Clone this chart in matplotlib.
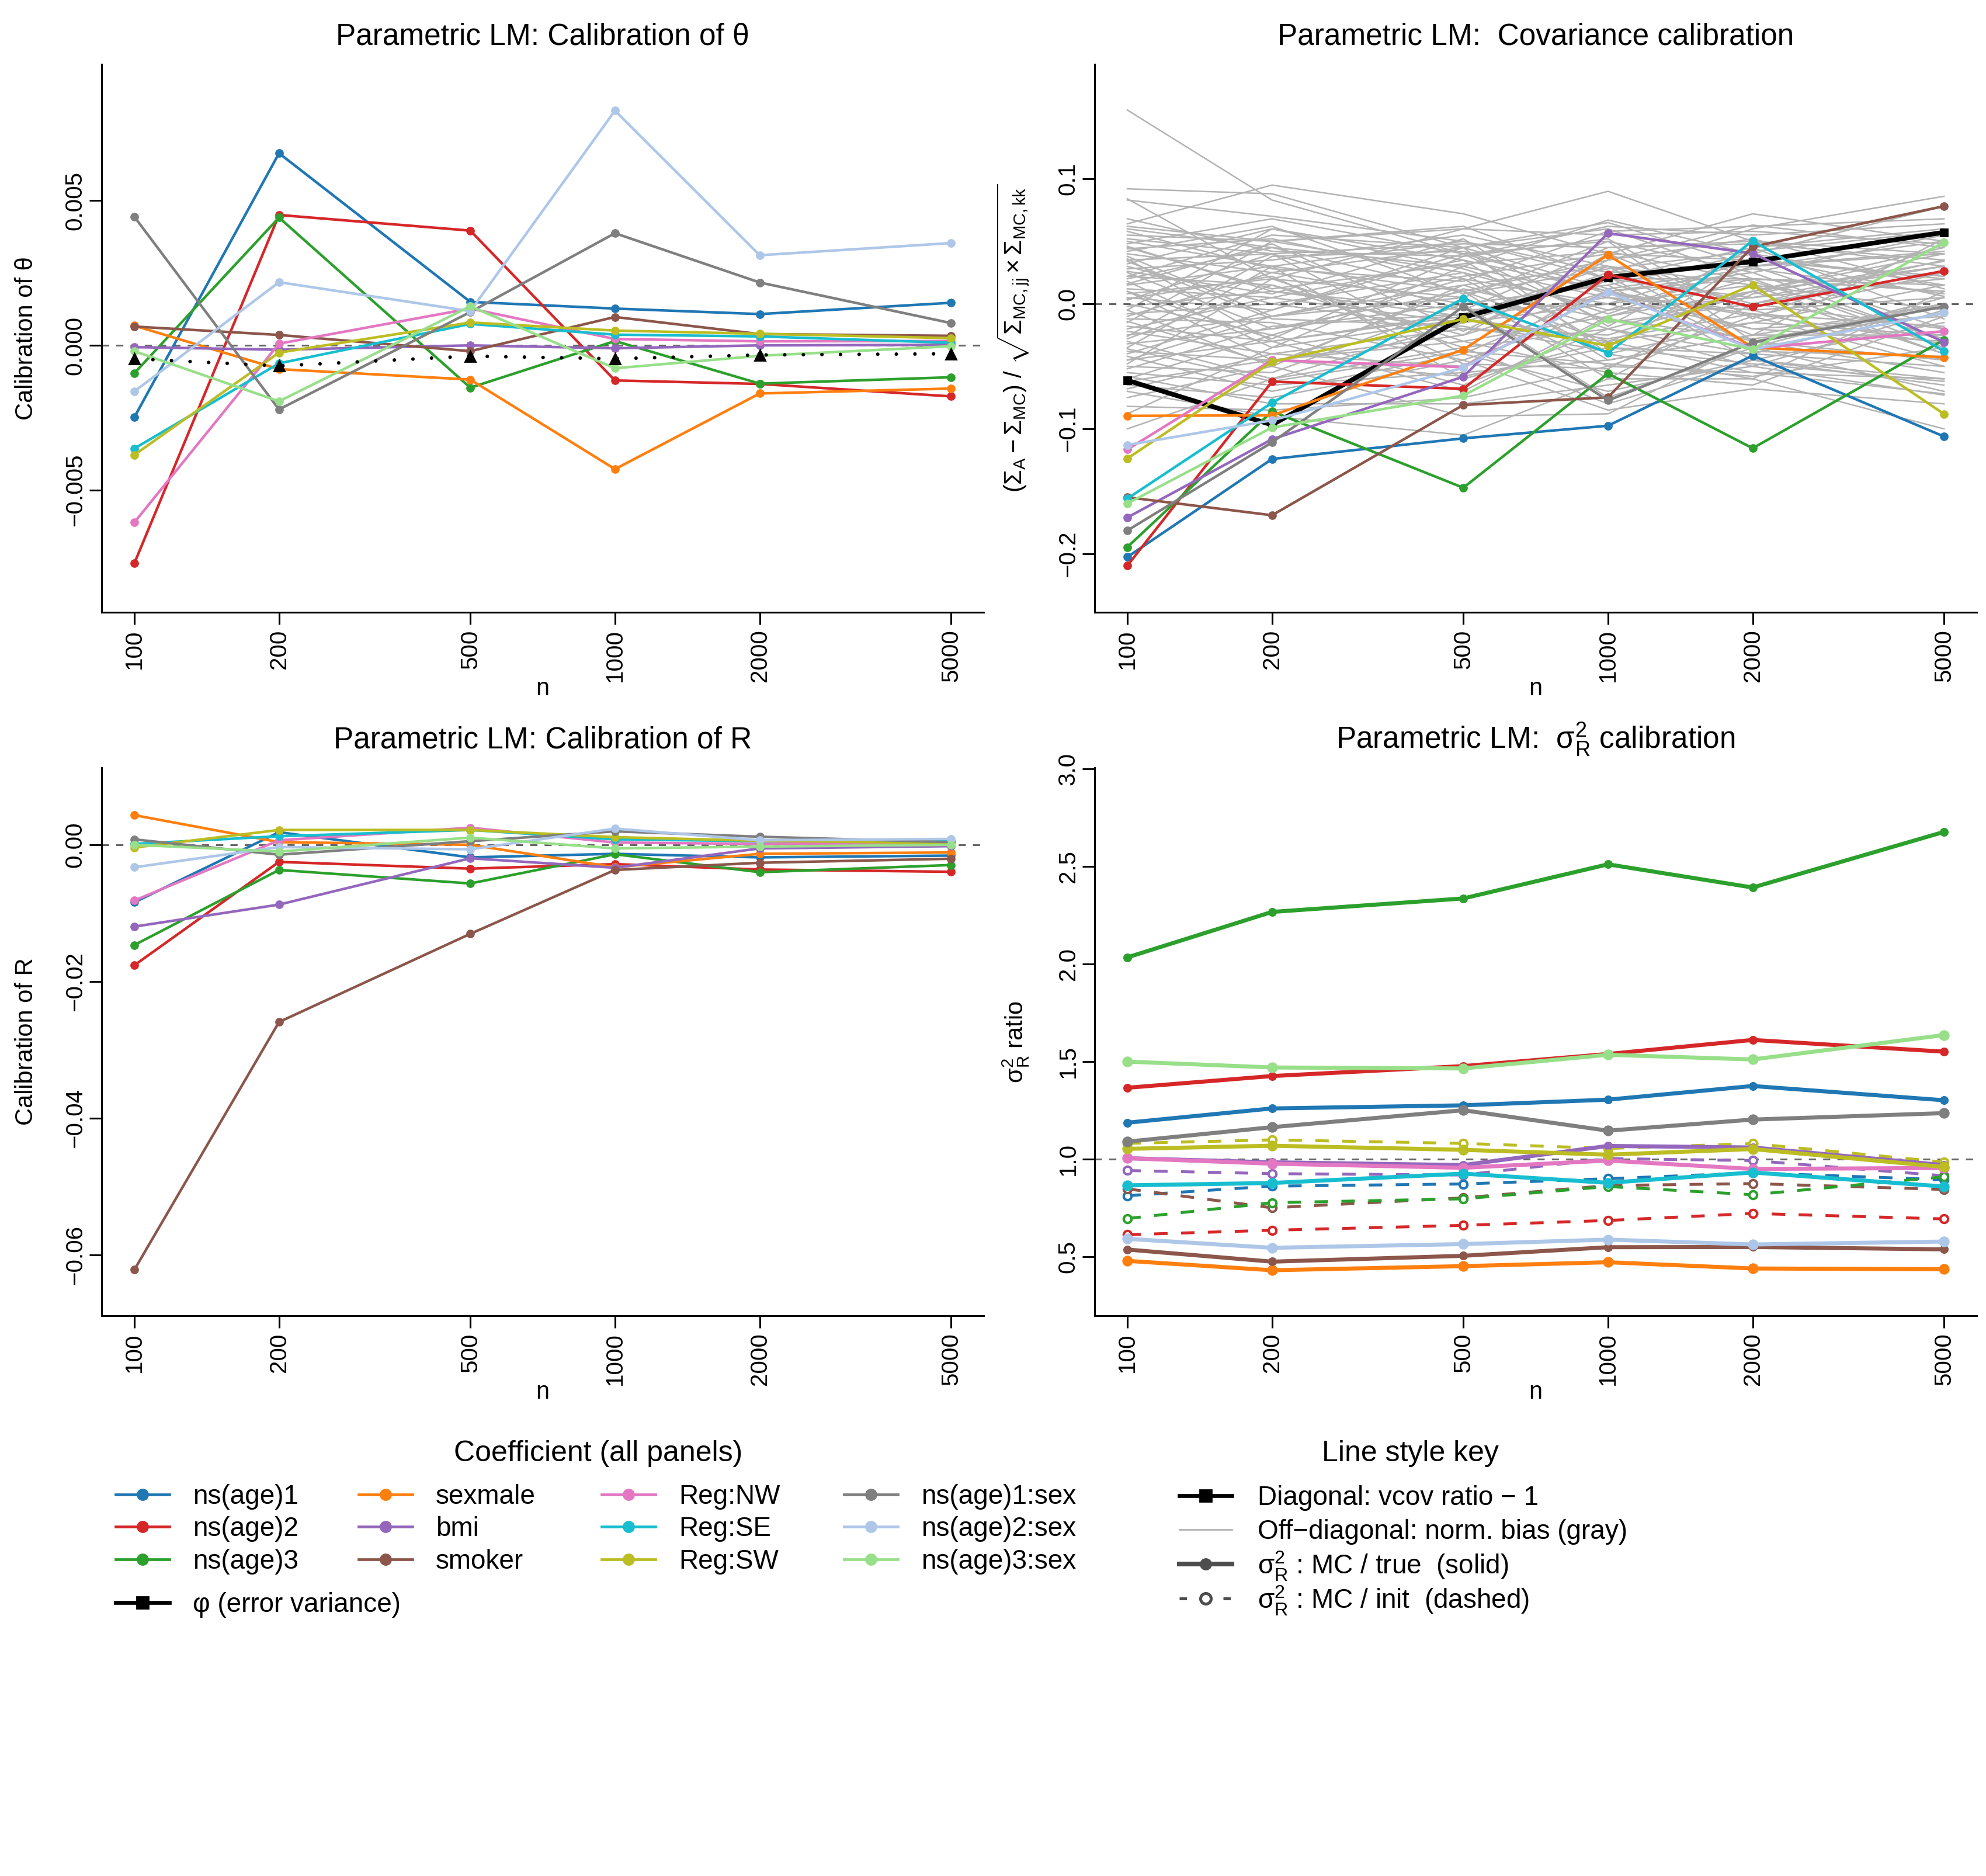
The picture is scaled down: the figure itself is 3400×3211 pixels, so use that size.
import matplotlib
matplotlib.use('Agg')
import matplotlib.pyplot as plt
from matplotlib.lines import Line2D

plt.rcParams['font.family'] = ['Liberation Sans', 'DejaVu Sans']
plt.rcParams['mathtext.fontset'] = 'custom'
plt.rcParams['mathtext.rm'] = 'Liberation Sans'
plt.rcParams['mathtext.it'] = 'Liberation Sans:italic'
plt.rcParams['mathtext.bf'] = 'Liberation Sans:bold'
plt.rcParams['mathtext.sf'] = 'Liberation Sans'

# ---------------------------------------------------------------------------
# Data
# ---------------------------------------------------------------------------
n_values = [100, 200, 500, 1000, 2000, 5000]

coef_names = ['ns(age)1', 'ns(age)2', 'ns(age)3', 'sexmale', 'bmi', 'smoker',
              'Reg:NW', 'Reg:SE', 'Reg:SW', 'ns(age)1:sex', 'ns(age)2:sex',
              'ns(age)3:sex']
coef_colors = ['#1f77b4', '#d62728', '#2ca02c', '#ff7f0e', '#9467bd', '#8c564b',
               '#e377c2', '#17becf', '#bcbd22', '#7f7f7f', '#aec7e8', '#98df8a']

# panel 1 : calibration of theta
theta_cal = [
    [-0.00248, 0.00663, 0.00150, 0.00127, 0.00108, 0.00147],
    [-0.00752, 0.00450, 0.00396, -0.00121, -0.00133, -0.00176],
    [-0.00096, 0.00441, -0.00146, 0.00015, -0.00132, -0.00110],
    [0.00068, -0.00082, -0.00118, -0.00427, -0.00166, -0.00149],
    [-0.00006, -0.00015, 0.00000, -0.00010, 0.00000, 0.00002],
    [0.00065, 0.00036, -0.00020, 0.00098, 0.00039, 0.00033],
    [-0.00611, 0.00006, 0.00127, 0.00022, 0.00014, 0.00015],
    [-0.00356, -0.00062, 0.00074, 0.00037, 0.00031, 0.00009],
    [-0.00378, -0.00025, 0.00079, 0.00051, 0.00040, 0.00025],
    [0.00444, -0.00221, 0.00115, 0.00387, 0.00217, 0.00077],
    [-0.00159, 0.00218, 0.00118, 0.00810, 0.00311, 0.00353],
    [-0.00020, -0.00193, 0.00135, -0.00079, -0.00036, -0.00003],
]
phi_theta_cal = [-0.00046, -0.00071, -0.00037, -0.00046, -0.00033, -0.00029]

# panel 2 : covariance calibration (diagonal per coefficient)
cov_cal = [
    [-0.2025, -0.1241, -0.1076, -0.0975, -0.0414, -0.1061],
    [-0.2094, -0.0622, -0.0680, 0.0234, -0.0025, 0.0263],
    [-0.1946, -0.0860, -0.1471, -0.0558, -0.1155, -0.0288],
    [-0.0896, -0.0892, -0.0367, 0.0392, -0.0349, -0.0428],
    [-0.1709, -0.1083, -0.0583, 0.0565, 0.0403, -0.0306],
    [-0.1547, -0.1691, -0.0809, -0.0748, 0.0457, 0.0781],
    [-0.1165, -0.0450, -0.0507, 0.0094, -0.0356, -0.0219],
    [-0.1558, -0.0791, 0.0043, -0.0392, 0.0504, -0.0378],
    [-0.1237, -0.0464, -0.0122, -0.0335, 0.0151, -0.0881],
    [-0.1813, -0.1108, -0.0022, -0.0773, -0.0309, -0.0022],
    [-0.1129, -0.0932, -0.0511, 0.0094, -0.0363, -0.0072],
    [-0.1597, -0.0989, -0.0734, -0.0122, -0.0363, 0.0493],
]
phi_cov_cal = [-0.0612, -0.0968, -0.0108, 0.0212, 0.0338, 0.0572]

# off-diagonal normalised bias (gray cloud)
offdiag_cal = [
    [0.155, 0.083, 0.040, 0.010, 0.020, 0.015],
    [0.092, 0.088, 0.045, 0.065, 0.030, 0.040],
    [0.083, 0.070, 0.050, 0.025, 0.060, 0.086],
    [0.084, 0.020, 0.060, 0.090, 0.050, 0.030],
    [0.064, 0.095, 0.072, 0.040, 0.072, 0.050],
    [0.060, 0.045, 0.030, 0.067, 0.040, 0.078],
    [0.055, 0.050, 0.062, 0.020, 0.045, 0.060],
    [0.050, 0.030, 0.010, 0.035, 0.063, 0.045],
    [0.048, 0.068, 0.040, 0.050, 0.025, 0.055],
    [0.046, 0.010, -0.010, 0.030, 0.000, 0.035],
    [0.044, 0.052, 0.020, 0.000, 0.035, 0.020],
    [0.040, 0.025, 0.045, 0.060, 0.020, 0.010],
    [0.038, -0.010, 0.015, -0.020, 0.010, 0.030],
    [0.035, 0.040, -0.005, 0.045, 0.050, 0.040],
    [0.032, 0.060, 0.035, 0.010, -0.010, 0.025],
    [0.030, 0.000, 0.025, -0.005, 0.030, 0.050],
    [0.028, 0.035, 0.055, 0.030, 0.015, -0.005],
    [0.025, -0.020, 0.000, 0.015, 0.040, 0.015],
    [0.022, 0.015, -0.025, 0.040, -0.005, 0.005],
    [0.020, 0.045, 0.010, -0.030, 0.010, 0.045],
    [0.018, -0.035, 0.030, 0.005, -0.020, -0.010],
    [0.015, 0.030, 0.050, 0.020, 0.005, 0.030],
    [0.012, 0.005, -0.015, 0.025, 0.030, -0.020],
    [0.010, -0.045, -0.030, -0.010, 0.020, 0.010],
    [0.008, 0.020, 0.005, 0.050, -0.030, 0.000],
    [0.005, -0.005, 0.040, -0.015, 0.000, 0.025],
    [0.003, 0.040, -0.040, 0.010, 0.025, -0.030],
    [0.000, -0.025, 0.020, -0.040, -0.015, 0.015],
    [-0.002, 0.010, -0.005, 0.000, 0.015, -0.040],
    [-0.005, -0.050, 0.015, 0.030, -0.035, 0.005],
    [-0.008, 0.000, -0.020, -0.025, 0.010, 0.040],
    [-0.010, 0.025, 0.000, 0.015, -0.045, -0.015],
    [-0.012, -0.015, -0.045, -0.005, 0.005, 0.020],
    [-0.015, 0.050, 0.025, -0.045, -0.025, -0.025],
    [-0.018, -0.030, -0.010, 0.005, -0.005, -0.045],
    [-0.020, 0.005, 0.035, -0.035, -0.040, 0.000],
    [-0.022, -0.040, -0.050, 0.020, 0.020, -0.035],
    [-0.025, -0.010, 0.005, -0.050, -0.010, -0.050],
    [-0.028, 0.015, -0.035, -0.020, -0.050, -0.005],
    [-0.030, -0.060, -0.015, 0.000, -0.030, -0.055],
    [-0.032, -0.020, 0.010, -0.060, 0.000, -0.020],
    [-0.035, 0.030, -0.060, -0.030, -0.055, -0.060],
    [-0.038, -0.045, -0.025, 0.010, -0.020, -0.030],
    [-0.040, -0.005, 0.045, -0.040, -0.060, 0.010],
    [-0.042, -0.070, -0.040, -0.070, -0.045, -0.065],
    [-0.045, -0.030, -0.070, -0.010, 0.010, -0.040],
    [-0.048, 0.020, -0.030, -0.055, -0.065, -0.010],
    [-0.050, -0.055, 0.000, -0.075, -0.035, -0.070],
    [-0.055, -0.065, -0.055, -0.045, -0.025, 0.000],
    [-0.058, -0.080, -0.080, -0.065, -0.050, -0.073],
    [-0.060, -0.025, -0.065, -0.020, -0.040, -0.050],
    [-0.065, -0.075, -0.045, -0.085, -0.068, -0.080],
    [-0.070, -0.090, -0.105, -0.060, -0.060, -0.100],
    [-0.075, -0.050, -0.090, -0.088, -0.030, -0.045],
    [-0.082, -0.085, -0.075, -0.050, -0.055, -0.072],
    [-0.100, -0.060, -0.035, -0.080, -0.045, -0.060],
    [0.062, 0.050, 0.060, 0.055, 0.058, 0.048],
    [0.052, 0.040, 0.048, 0.045, 0.048, 0.035],
    [0.042, 0.062, 0.008, 0.028, 0.042, 0.058],
    [0.058, 0.028, 0.018, 0.058, 0.062, 0.068],
    [-0.005, 0.060, 0.028, -0.008, 0.030, 0.042],
    [-0.045, -0.010, 0.022, 0.040, 0.035, 0.022],
    [0.036, -0.030, -0.008, 0.018, -0.025, 0.052],
    [-0.068, -0.040, -0.020, -0.030, -0.015, -0.025],
    [0.026, 0.008, 0.052, -0.018, 0.045, -0.012],
    [-0.088, -0.035, -0.012, -0.028, -0.008, -0.032],
    [0.068, 0.042, 0.038, 0.062, 0.055, 0.064],
    [0.016, 0.048, -0.022, 0.035, 0.052, 0.012],
    [-0.014, -0.048, 0.012, -0.012, -0.028, -0.008],
    [0.004, 0.022, -0.048, -0.052, 0.008, 0.034],
    [-0.026, 0.038, 0.042, 0.008, -0.008, -0.018],
    [0.034, -0.012, -0.018, -0.038, 0.038, 0.006],
    [-0.052, -0.018, -0.008, 0.022, -0.038, -0.042],
    [0.045, 0.012, 0.032, 0.042, 0.018, -0.028],
    [-0.036, -0.062, -0.038, -0.048, -0.058, -0.035],
    [0.010, -0.028, 0.038, 0.052, -0.012, 0.048],
    [-0.062, -0.045, -0.058, -0.035, -0.048, -0.062],
    [0.022, 0.055, 0.045, 0.012, 0.028, 0.008],
]

# panel 3 : calibration of R
r_cal = [
    [-0.00842, 0.00184, -0.00184, -0.00132, -0.00184, -0.00158],
    [-0.01763, -0.00250, -0.00349, -0.00283, -0.00362, -0.00395],
    [-0.01467, -0.00368, -0.00566, -0.00138, -0.00401, -0.00296],
    [0.00434, 0.00039, 0.00000, -0.00329, -0.00132, -0.00112],
    [-0.01197, -0.00875, -0.00197, -0.00336, -0.00053, -0.00020],
    [-0.06218, -0.02593, -0.01303, -0.00368, -0.00263, -0.00204],
    [-0.00816, 0.00066, 0.00250, 0.00033, 0.00013, 0.00026],
    [0.00013, 0.00125, 0.00217, 0.00079, 0.00053, 0.00059],
    [-0.00040, 0.00217, 0.00217, 0.00112, 0.00059, 0.00026],
    [0.00079, -0.00145, 0.00053, 0.00197, 0.00118, 0.00039],
    [-0.00329, -0.00033, -0.00066, 0.00237, 0.00066, 0.00086],
    [0.00000, -0.00099, 0.00105, -0.00053, -0.00026, 0.00000],
]

# panel 4 : sigma_R^2 ratios, MC / true (solid)
sigma_true = [
    [1.187, 1.260, 1.276, 1.305, 1.375, 1.302],
    [1.366, 1.426, 1.477, 1.539, 1.611, 1.551],
    [2.034, 2.267, 2.336, 2.511, 2.392, 2.677],
    [0.479, 0.431, 0.452, 0.472, 0.440, 0.436],
    [1.005, 0.984, 0.970, 1.068, 1.060, 0.970],
    [0.537, 0.475, 0.505, 0.549, 0.550, 0.538],
    [1.005, 0.977, 0.956, 0.993, 0.950, 0.955],
    [0.866, 0.878, 0.926, 0.879, 0.932, 0.860],
    [1.053, 1.069, 1.048, 1.023, 1.052, 0.960],
    [1.090, 1.164, 1.251, 1.146, 1.203, 1.236],
    [0.592, 0.546, 0.565, 0.588, 0.563, 0.578],
    [1.500, 1.470, 1.465, 1.535, 1.511, 1.636],
]
sigma_true_marker = [4.4, 4.4, 4.4, 5.6, 4.4, 4.4, 5.6, 5.6, 5.6, 5.6, 5.6, 5.6]

# MC / init (dashed)
sigma_init_coefs = ['Reg:SW', 'bmi', 'ns(age)1', 'smoker', 'ns(age)3', 'ns(age)2']
sigma_init = [
    [1.081, 1.099, 1.081, 1.055, 1.080, 0.985],
    [0.942, 0.926, 0.919, 1.003, 0.993, 0.915],
    [0.813, 0.862, 0.873, 0.900, 0.930, 0.895],
    [0.848, 0.751, 0.802, 0.865, 0.875, 0.845],
    [0.696, 0.777, 0.797, 0.860, 0.818, 0.910],
    [0.613, 0.636, 0.661, 0.686, 0.722, 0.694],
]

# ---------------------------------------------------------------------------
# Figure
# ---------------------------------------------------------------------------
DPI = 200
fig = plt.figure(figsize=(3400 / DPI, 3211 / DPI), dpi=DPI)

LEFT = [174 / 3400, 1874 / 3400]
BOTTOM = [1 - 1048 / 3211, 1 - 2252 / 3211]
W = 1510 / 3400
H = 938 / 3211

XLIM = (10 ** (2 - 0.068), 10 ** (3.69897 + 0.068))
REF = dict(color='#666666', lw=1.1, dashes=(4, 4), zorder=1)
MINUS = '\u2212'
LW = 1.6


def style_axes(ax, title, ylabel, yticks, yfmt, ylim):
    ax.set_xscale('log')
    ax.set_xlim(*XLIM)
    ax.set_ylim(*ylim)
    ax.set_xticks(n_values)
    ax.set_xticklabels([str(v) for v in n_values], rotation=90)
    ax.minorticks_off()
    ax.set_yticks(yticks)
    ax.set_yticklabels([(yfmt % v).replace('-', MINUS) for v in yticks],
                       rotation=90, va='center')
    for s in ('top', 'right'):
        ax.spines[s].set_visible(False)
    for s in ('left', 'bottom'):
        ax.spines[s].set_linewidth(1.1)
    ax.tick_params(axis='both', direction='out', length=7.5, width=1.1,
                   labelsize=14.5)
    ax.tick_params(axis='x', pad=3)
    ax.tick_params(axis='y', pad=2)
    ax.set_title(title, fontsize=18.5, pad=12)
    ax.set_xlabel('n', fontsize=15)
    ax.set_ylabel(ylabel, fontsize=15)
    ax.xaxis.set_label_coords(0.5, -0.118)
    ax.yaxis.set_label_coords(-0.072, 0.5)


# --- panel 1 ---------------------------------------------------------------
ax1 = fig.add_axes([LEFT[0], BOTTOM[0], W, H])
ax1.axhline(0, **REF)
for vals, col in zip(theta_cal, coef_colors):
    ax1.plot(n_values, vals, color=col, lw=LW, marker='o', ms=4.3, zorder=2)
ax1.plot(n_values, phi_theta_cal, color='black', lw=2.2,
         linestyle=(0, (0.01, 5.2)), dash_capstyle='round',
         marker='^', ms=6.5, zorder=3)
style_axes(ax1, 'Parametric LM: Calibration of θ', 'Calibration of θ',
           [-0.005, 0.0, 0.005], '%.3f', (-0.00921, 0.00970))

# --- panel 2 ---------------------------------------------------------------
ax2 = fig.add_axes([LEFT[1], BOTTOM[0], W, H])
for vals in offdiag_cal:
    ax2.plot(n_values, vals, color='#b3b3b3', lw=0.9, zorder=1)
ax2.axhline(0, **dict(REF, zorder=1.5))
ax2.plot(n_values, phi_cov_cal, color='black', lw=2.9, marker='s', ms=4.5,
         zorder=2)
for vals, col in zip(cov_cal, coef_colors):
    ax2.plot(n_values, vals, color=col, lw=LW, marker='o', ms=4.3, zorder=3)
style_axes(ax2, 'Parametric LM:  Covariance calibration',
           r'$(\Sigma_{\mathrm{A}} - \Sigma_{\mathrm{MC}})\ /\ '
           r'\sqrt{\Sigma_{\mathrm{MC,jj}} \times \Sigma_{\mathrm{MC,kk}}}$',
           [-0.2, -0.1, 0.0, 0.1], '%.1f', (-0.2467, 0.1916))

# --- panel 3 ---------------------------------------------------------------
ax3 = fig.add_axes([LEFT[0], BOTTOM[1], W, H])
ax3.axhline(0, **REF)
for vals, col in zip(r_cal, coef_colors):
    ax3.plot(n_values, vals, color=col, lw=LW, marker='o', ms=4.3, zorder=2)
style_axes(ax3, 'Parametric LM: Calibration of R', 'Calibration of R',
           [-0.06, -0.04, -0.02, 0.0], '%.2f', (-0.0689, 0.01128))

# --- panel 4 ---------------------------------------------------------------
ax4 = fig.add_axes([LEFT[1], BOTTOM[1], W, H])
ax4.axhline(1, **REF)
for name, vals in zip(sigma_init_coefs, sigma_init):
    col = coef_colors[coef_names.index(name)]
    ax4.plot(n_values, vals, color=col, lw=1.8, dashes=(4.6, 4.6),
             marker='o', ms=4.8, mfc='white', mec=col, mew=1.5, zorder=2)
for vals, col, ms in zip(sigma_true, coef_colors, sigma_true_marker):
    ax4.plot(n_values, vals, color=col, lw=2.5, marker='o', ms=ms, zorder=3)
style_axes(ax4, r'Parametric LM:  $\mathrm{\sigma}^2_{\mathrm{R}}$ calibration',
           r'$\mathrm{\sigma}^2_{\mathrm{R}}$ ratio',
           [0.5, 1.0, 1.5, 2.0, 2.5, 3.0], '%.1f', (0.198, 3.006))

# ---------------------------------------------------------------------------
# Legends (drawn in a pixel-coordinate overlay)
# ---------------------------------------------------------------------------
lax = fig.add_axes([0, 0, 1, 1])
lax.set_xlim(0, 3400)
lax.set_ylim(3211, 0)
lax.axis('off')

LEG_FS = 16.5
lax.text(1024, 2488, 'Coefficient (all panels)', fontsize=18, ha='center',
         va='center')
col_x = [198, 614, 1030, 1445]
row_y = [2558, 2613, 2669]
for i, (name, col) in enumerate(zip(coef_names, coef_colors)):
    x0 = col_x[i // 3]
    y0 = row_y[i % 3]
    lax.add_line(Line2D([x0, x0 + 92], [y0, y0], color=col, lw=1.7))
    lax.add_line(Line2D([x0 + 46], [y0], color=col, marker='o', ms=6.5))
    lax.text(x0 + 132, y0 + 4, name, fontsize=LEG_FS, va='center')
lax.add_line(Line2D([198, 290], [2743, 2743], color='black', lw=2.4))
lax.add_line(Line2D([244], [2743], color='black', marker='s', ms=7))
lax.text(330, 2747, 'φ (error variance)', fontsize=LEG_FS, va='center')

lax.text(2414, 2488, 'Line style key', fontsize=18, ha='center', va='center')
kx = 2019
ky = [2560, 2618, 2677, 2736]
lax.add_line(Line2D([kx, kx + 90], [ky[0], ky[0]], color='black', lw=2.4))
lax.add_line(Line2D([kx + 45], [ky[0]], color='black', marker='s', ms=7))
lax.add_line(Line2D([kx, kx + 90], [ky[1], ky[1]], color='#b3b3b3', lw=1.0))
lax.add_line(Line2D([kx, kx + 90], [ky[2], ky[2]], color='#4d4d4d', lw=2.9))
lax.add_line(Line2D([kx + 45], [ky[2]], color='#4d4d4d', marker='o', ms=6.5))
lax.add_line(Line2D([kx, kx + 90], [ky[3], ky[3]], color='#4d4d4d', lw=1.8,
                    dashes=(2.5, 5)))
lax.add_line(Line2D([kx + 45], [ky[3]], color='#4d4d4d', marker='o', ms=6.5,
                    mfc='white', mew=1.8))
tx = 2153
lax.text(tx, ky[0] + 4, 'Diagonal: vcov ratio \u2212 1', fontsize=LEG_FS,
         va='center')
lax.text(tx, ky[1] + 4, 'Off\u2212diagonal: norm. bias (gray)', fontsize=LEG_FS,
         va='center')
lax.text(tx, ky[2] + 4, r'$\mathrm{\sigma}^2_{\mathrm{R}}$ : MC / true  (solid)',
         fontsize=LEG_FS, va='center')
lax.text(tx, ky[3] + 4, r'$\mathrm{\sigma}^2_{\mathrm{R}}$ : MC / init  (dashed)',
         fontsize=LEG_FS, va='center')

fig.savefig('out.png', dpi=DPI, facecolor='white')
